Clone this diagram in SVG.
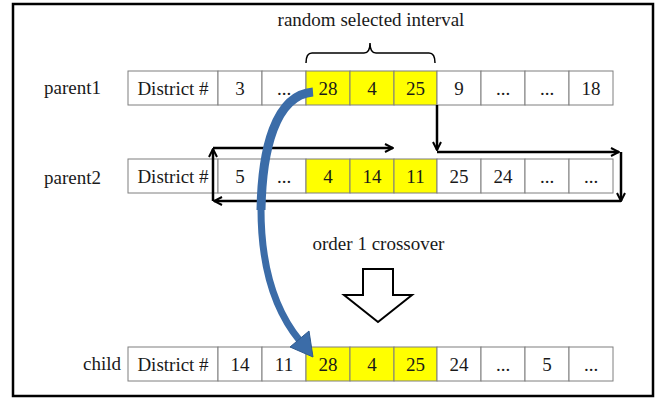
<svg xmlns="http://www.w3.org/2000/svg" width="657" height="398" viewBox="0 0 657 398">
<style>
  text { font-family: "Liberation Serif", "Times New Roman", serif; font-size: 19px; fill: #1a1a1a; }
  .c { text-anchor: middle; }
  .cell { fill: #ffffff; stroke: #7f7f7f; stroke-width: 1; }
  .sel { fill: #ffff00; stroke: #7f7f7f; stroke-width: 1; }
  .ln { fill: none; stroke: #000; stroke-width: 2.5; marker-end: url(#ah); }
  .blue { fill: none; stroke: #3b6ca8; }
</style>
<defs>
  <marker id="ah" viewBox="0 0 10 10" refX="9" refY="5" markerWidth="10" markerHeight="10" markerUnits="userSpaceOnUse" orient="auto">
    <path d="M1,1 L9,5 L1,9" fill="none" stroke="#000" stroke-width="2"/>
  </marker>
</defs>
<rect x="13" y="4" width="640" height="392" fill="#fff" stroke="#000" stroke-width="2.5"/>

<g id="interval-label">
  <text class="c" x="371" y="26">random selected interval</text>
  <path d="M306,63 Q306,53 312,53 L364,53 Q370,53 370,43 Q370,53 376,53 L429,53 Q435,53 435,63" fill="none" stroke="#000" stroke-width="1.5"/>
</g>

<g id="parent1">
  <text x="44" y="94">parent1</text>
  <rect class="cell" x="128" y="71" width="90" height="34"/>
  <rect class="cell" x="218" y="71" width="44" height="34"/>
  <rect class="cell" x="262" y="71" width="44" height="34"/>
  <rect class="sel" x="306" y="71" width="44" height="34"/>
  <rect class="sel" x="350" y="71" width="44" height="34"/>
  <rect class="sel" x="394" y="71" width="43" height="34"/>
  <rect class="cell" x="437" y="71" width="44" height="34"/>
  <rect class="cell" x="481" y="71" width="44" height="34"/>
  <rect class="cell" x="525" y="71" width="44" height="34"/>
  <rect class="cell" x="569" y="71" width="44" height="34"/>
  <text class="c" x="173" y="95">District #</text>
  <text class="c" x="240" y="95">3</text>
  <text class="c" x="284" y="95">...</text>
  <text class="c" x="328" y="95">28</text>
  <text class="c" x="372" y="95">4</text>
  <text class="c" x="415.5" y="95">25</text>
  <text class="c" x="459" y="95">9</text>
  <text class="c" x="503" y="95">...</text>
  <text class="c" x="547" y="95">...</text>
  <text class="c" x="591" y="95">18</text>
</g>

<g id="parent2">
  <text x="44" y="184">parent2</text>
  <rect class="cell" x="128" y="159" width="90" height="34"/>
  <rect class="cell" x="218" y="159" width="44" height="34"/>
  <rect class="cell" x="262" y="159" width="44" height="34"/>
  <rect class="sel" x="306" y="159" width="44" height="34"/>
  <rect class="sel" x="350" y="159" width="44" height="34"/>
  <rect class="sel" x="394" y="159" width="43" height="34"/>
  <rect class="cell" x="437" y="159" width="44" height="34"/>
  <rect class="cell" x="481" y="159" width="44" height="34"/>
  <rect class="cell" x="525" y="159" width="44" height="34"/>
  <rect class="cell" x="569" y="159" width="44" height="34"/>
  <text class="c" x="173" y="183">District #</text>
  <text class="c" x="240" y="183">5</text>
  <text class="c" x="284" y="183">...</text>
  <text class="c" x="328" y="183">4</text>
  <text class="c" x="372" y="183">14</text>
  <text class="c" x="415.5" y="183">11</text>
  <text class="c" x="459" y="183">25</text>
  <text class="c" x="503" y="183">24</text>
  <text class="c" x="547" y="183">...</text>
  <text class="c" x="591" y="183">...</text>
</g>

<g id="crossover">
  <text class="c" x="378.5" y="250">order 1 crossover</text>
  <polygon points="363,269 393,269 393,295 412,295 378,322 344,295 363,295" fill="#fff" stroke="#000" stroke-width="2" stroke-linejoin="miter"/>
</g>

<g id="child">
  <text x="83" y="370">child</text>
  <rect class="cell" x="128" y="347" width="90" height="34"/>
  <rect class="cell" x="218" y="347" width="44" height="34"/>
  <rect class="cell" x="262" y="347" width="44" height="34"/>
  <rect class="sel" x="306" y="347" width="44" height="34"/>
  <rect class="sel" x="350" y="347" width="44" height="34"/>
  <rect class="sel" x="394" y="347" width="43" height="34"/>
  <rect class="cell" x="437" y="347" width="44" height="34"/>
  <rect class="cell" x="481" y="347" width="44" height="34"/>
  <rect class="cell" x="525" y="347" width="44" height="34"/>
  <rect class="cell" x="569" y="347" width="44" height="34"/>
  <text class="c" x="173" y="371">District #</text>
  <text class="c" x="240" y="371">14</text>
  <text class="c" x="284" y="371">11</text>
  <text class="c" x="328" y="371">28</text>
  <text class="c" x="372" y="371">4</text>
  <text class="c" x="415.5" y="371">25</text>
  <text class="c" x="459" y="371">24</text>
  <text class="c" x="503" y="371">...</text>
  <text class="c" x="547" y="371">5</text>
  <text class="c" x="591" y="371">...</text>
</g>

<g id="connectors">
  <path class="ln" d="M437,105 L437,150"/>
  <path class="ln" d="M437,152 L619,152"/>
  <path class="ln" d="M621,152 L621,201"/>
  <path class="ln" d="M621,201 L214,201"/>
  <path class="ln" d="M213,201 L213,149"/>
  <path class="ln" d="M213,148 L393,148"/>
  <path class="blue" d="M313,92 C275,95 262,150 261,210" stroke-width="9"/>
  <path class="blue" d="M261,209 C261,280 281,318 300,341" stroke-width="7"/>
  <polygon points="309,331 290,347 313,357" fill="#3b6ca8" stroke="#2f5a8f" stroke-width="1" stroke-linejoin="round"/>
</g>
</svg>
